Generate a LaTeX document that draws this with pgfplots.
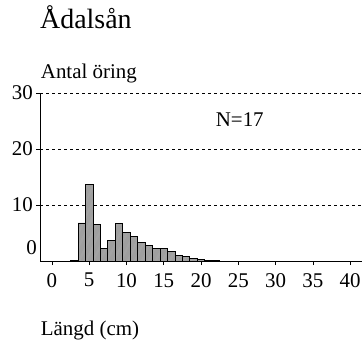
\documentclass[border=0pt]{standalone}
\usepackage{fontspec}
\setmainfont{Liberation Serif}
\usepackage{pgfplots}
\pgfplotsset{compat=1.18}
\usetikzlibrary{patterns.meta}

\pgfplotstableread{
len n
3 0.1
4 6.8
5 13.6
6 6.5
7 2.3
8 3.7
9 6.7
10 5.1
11 4.35
12 3.3
13 2.8
14 2.3
15 2.3
16 1.7
17 1.0
18 0.8
19 0.5
20 0.3
21 0.15
22 0.1
}\oring

\begin{document}
\begin{tikzpicture}
\useasboundingbox (-40bp,-84bp) rectangle (322bp,261bp);
\begin{axis}[
  at={(0,0)}, anchor=south west,
  scale only axis,
  width=322bp, height=168bp,
  xmin=-1.6, xmax=41.6,
  ymin=0, ymax=30,
  axis x line=bottom, axis y line=left,
  axis line style={-, line width=0.8bp},
  xtick={0,5,...,40},
  ytick={10,20,30},
  tick align=outside,
  major tick length=4bp,
  tick style={black, line width=0.6bp},
  ymajorgrids=true,
  grid style={black, line width=0.6bp, dash pattern=on 3bp off 3bp},
  /pgf/number format/assume math mode=true,
  ticklabel style={font=\fontsize{21}{24}\selectfont, inner sep=0pt},
  xticklabel style={anchor=north, yshift=-8bp},
  yticklabel style={anchor=east, xshift=-3bp},
  extra y ticks={0},
  extra y tick style={grid=none, major tick length=0pt,
    yticklabel style={yshift=13bp}},
  clip=false,
]
\addplot[ybar, bar width=1, draw=black, line width=0.7bp, fill=gray!75,
  postaction={pattern={Lines[angle=65, distance=6bp, line width=0.4bp]},
    pattern color=gray!45}]
  table[x=len, y=n] {\oring};
\node[font=\fontsize{21}{24}\selectfont] at (axis cs:25.2,25.2) {N=17};
\end{axis}
\node[anchor=base west, inner sep=0pt, font=\fontsize{28}{32}\selectfont] at (0bp,232bp) {Ådalsån};
\node[anchor=base west, inner sep=0pt, font=\fontsize{21}{24}\selectfont] at (0.7bp,182bp) {Antal öring};
\node[anchor=base west, inner sep=0pt, font=\fontsize{21}{24}\selectfont] at (0.7bp,-74bp) {Längd (cm)};
\end{tikzpicture}
\end{document}
